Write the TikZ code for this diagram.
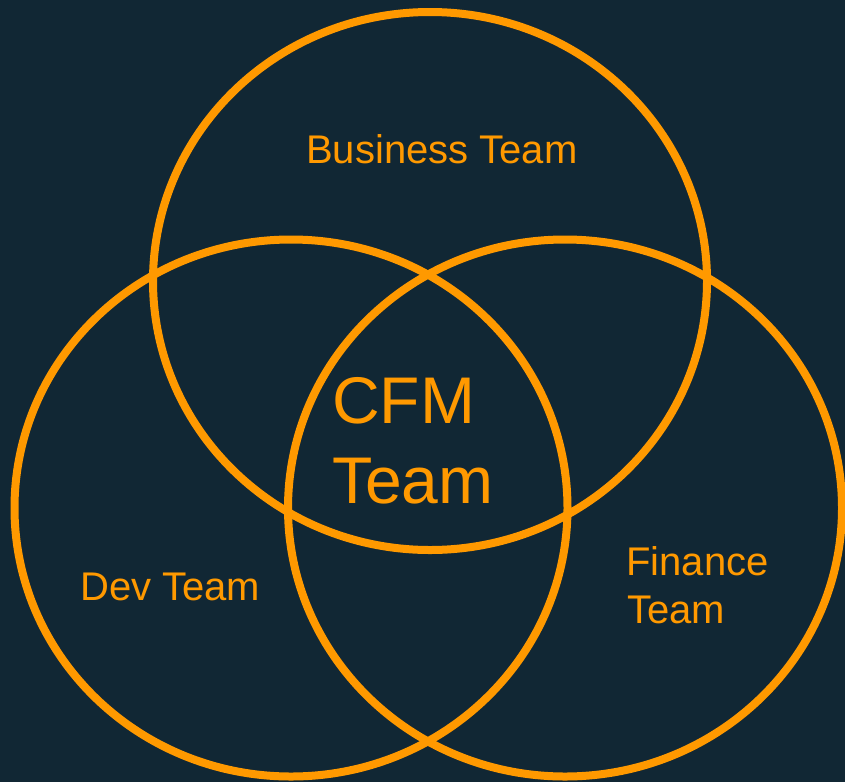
\documentclass[tikz,border=0pt]{standalone}
\usepackage{fontspec}
\setmainfont{Liberation Sans}
\usetikzlibrary{shapes.geometric}
\definecolor{bgnavy}{HTML}{112734}
\definecolor{vorange}{HTML}{FF9900}
\begin{document}
\begin{tikzpicture}[x=1pt,y=-1pt,
  ring/.style={draw=vorange, line width=8pt, ellipse, inner sep=0pt},
  lbl/.style={text=vorange, inner sep=0pt, font=\fontsize{40}{48}\selectfont},
  biglbl/.style={text=vorange, inner sep=0pt, font=\fontsize{66}{80}\selectfont}]
\fill[bgnavy] (0,0) rectangle (845,782);
\useasboundingbox (0,0) rectangle (845,782);
\node[ring, minimum width=554pt, minimum height=538pt] (business) at (430,281) {};
\node[ring, minimum width=553pt, minimum height=537pt] (dev) at (291,508) {};
\node[ring, minimum width=554pt, minimum height=537pt] (finance) at (565,508) {};
\node[lbl, anchor=base west] (businesslbl) at (306,163) {Business Team};
\node[lbl, anchor=base west] (devlbl) at (80,600) {Dev Team};
\node[lbl, anchor=base west] (fin1) at (626,575) {Finance};
\node[lbl, anchor=base west] (fin2) at (627,623) {Team};
\node[biglbl, anchor=base west] (cfm1) at (332,423) {CFM};
\node[biglbl, anchor=base west] (cfm2) at (332,503) {Team};
\end{tikzpicture}
\end{document}
